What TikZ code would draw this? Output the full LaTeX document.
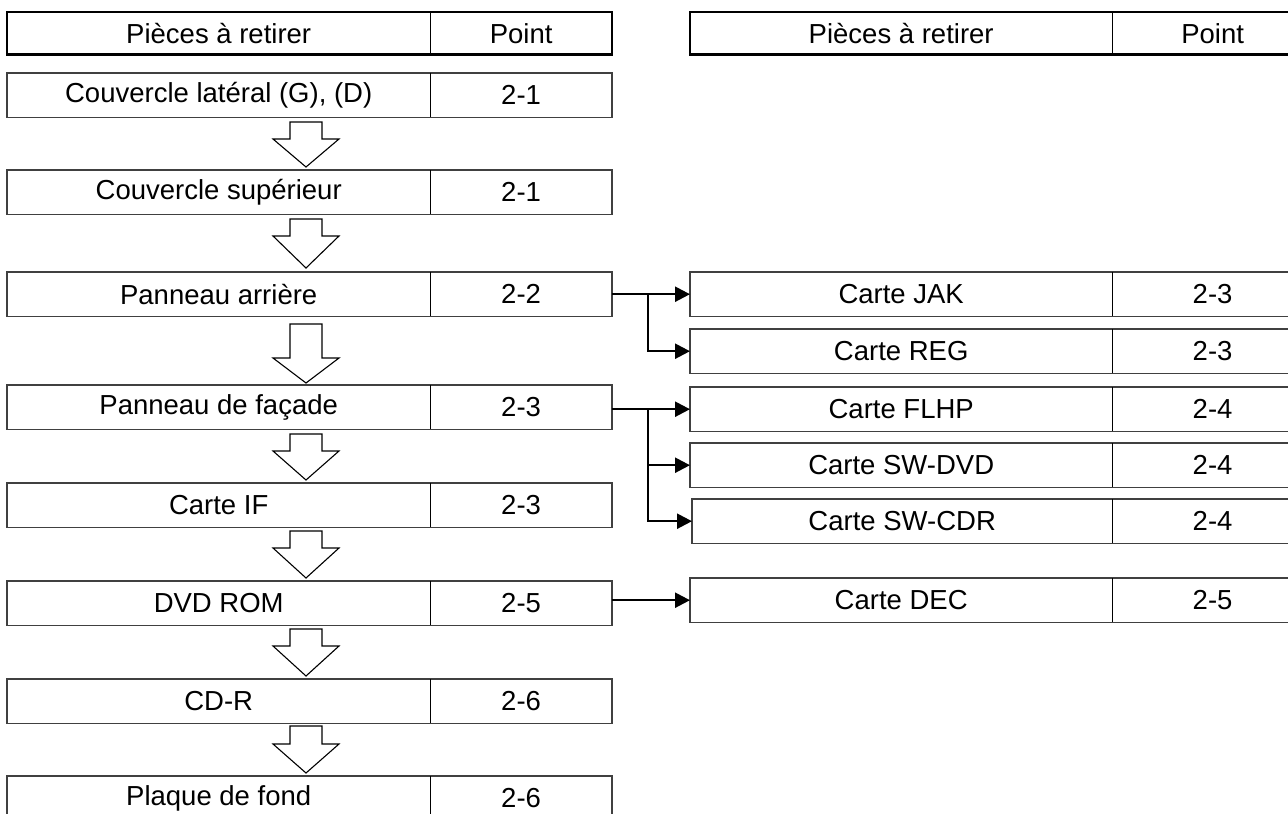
\documentclass[tikz,border=0pt]{standalone}
\usepackage{fontspec}
\setmainfont{Liberation Sans}
\usetikzlibrary{arrows.meta}
\newcommand\tworow[9]{%
  \node[cell,#2,minimum width=#6pt] (#1) at (#4,#5) {#8};
  \node[cell,#2,minimum width=#7pt] (#1p) at (#1.north east) {#9};
  \draw[#3] (#1.north west) rectangle (#1p.south east);
  \draw[divline] (#1.north east) -- (#1.south east);
}
\newcommand\blockdown[4]{% x, shaft top, head base, tip
  \draw[blockarrow] (#1-16,#2) -- (#1+16,#2) -- (#1+16,#3) -- (#1+33,#3) -- (#1,#4)
    -- (#1-33,#3) -- (#1-16,#3) -- cycle;
}
\begin{document}
\begin{tikzpicture}[x=1pt,y=-1pt,
  cell/.style={minimum height=44pt, inner sep=0pt, anchor=north west,
    font=\fontsize{27.5}{33}\selectfont},
  headcell/.style={minimum height=42pt},
  headbox/.style={draw=black, line width=2.6pt},
  rowbox/.style={draw=black!75, line width=1.8pt},
  divline/.style={draw=black, line width=1.1pt},
  blockarrow/.style={draw=black, line width=1.1pt, fill=white, line join=miter},
  conn/.style={draw=black, line width=2.4pt, -{Triangle[length=15pt,width=15pt]}},
  link/.style={draw=black, line width=2.4pt}
]
\clip (0,0) rectangle (1288,814);
\fill[white] (0,0) rectangle (1288,814);

% headers
\tworow{hL}{headcell}{headbox}{7}{12}{423}{181}{Pièces à retirer}{Point}
\tworow{hR}{headcell}{headbox}{690}{12}{422}{200}{Pièces à retirer}{Point}

% left column
\tworow{r1}{}{rowbox}{7}{73}{423}{181}{Couvercle latéral (G), (D)}{2-1}
\tworow{r2}{}{rowbox}{7}{170}{423}{181}{Couvercle supérieur}{2-1}
\tworow{r3}{}{rowbox}{7}{272}{423}{181}{Panneau arrière}{2-2}
\tworow{r4}{}{rowbox}{7}{385}{423}{181}{Panneau de façade}{2-3}
\tworow{r5}{}{rowbox}{7}{483}{423}{181}{Carte IF}{2-3}
\tworow{r6}{}{rowbox}{7}{581}{423}{181}{DVD ROM}{2-5}
\tworow{r7}{}{rowbox}{7}{679}{423}{181}{CD-R}{2-6}
\tworow{r8}{}{rowbox}{7}{776}{423}{181}{Plaque de fond}{2-6}

% right column
\tworow{jak}{}{rowbox}{690}{272}{422}{200}{Carte JAK}{2-3}
\tworow{reg}{}{rowbox}{690}{329}{422}{200}{Carte REG}{2-3}
\tworow{flhp}{}{rowbox}{690}{387}{422}{200}{Carte FLHP}{2-4}
\tworow{swdvd}{}{rowbox}{690}{443}{422}{200}{Carte SW-DVD}{2-4}
\tworow{swcdr}{}{rowbox}{692}{499}{420}{200}{Carte SW-CDR}{2-4}
\tworow{dec}{}{rowbox}{690}{578}{422}{200}{Carte DEC}{2-5}

% block arrows
\blockdown{306}{122}{139}{167}
\blockdown{306}{219}{236}{268}
\blockdown{306}{324}{358}{383}
\blockdown{306}{434}{451}{480}
\blockdown{306}{531}{548}{578}
\blockdown{306}{629}{646}{676}
\blockdown{306}{726}{744}{773}

% connectors
\coordinate (b1) at (648,294);
\coordinate (b2) at (648,409);
\draw[conn] (r3p.east) -- (jak.west);
\draw[conn] (b1) |- (reg.west);
\draw[conn] (r4p.east |- flhp.west) -- (flhp.west);
\draw[conn] (b2) |- (swdvd.west);
\draw[conn] (b2) |- (swcdr.west);
\draw[conn] (r6p.east |- dec.west) -- (dec.west);
\end{tikzpicture}
\end{document}
